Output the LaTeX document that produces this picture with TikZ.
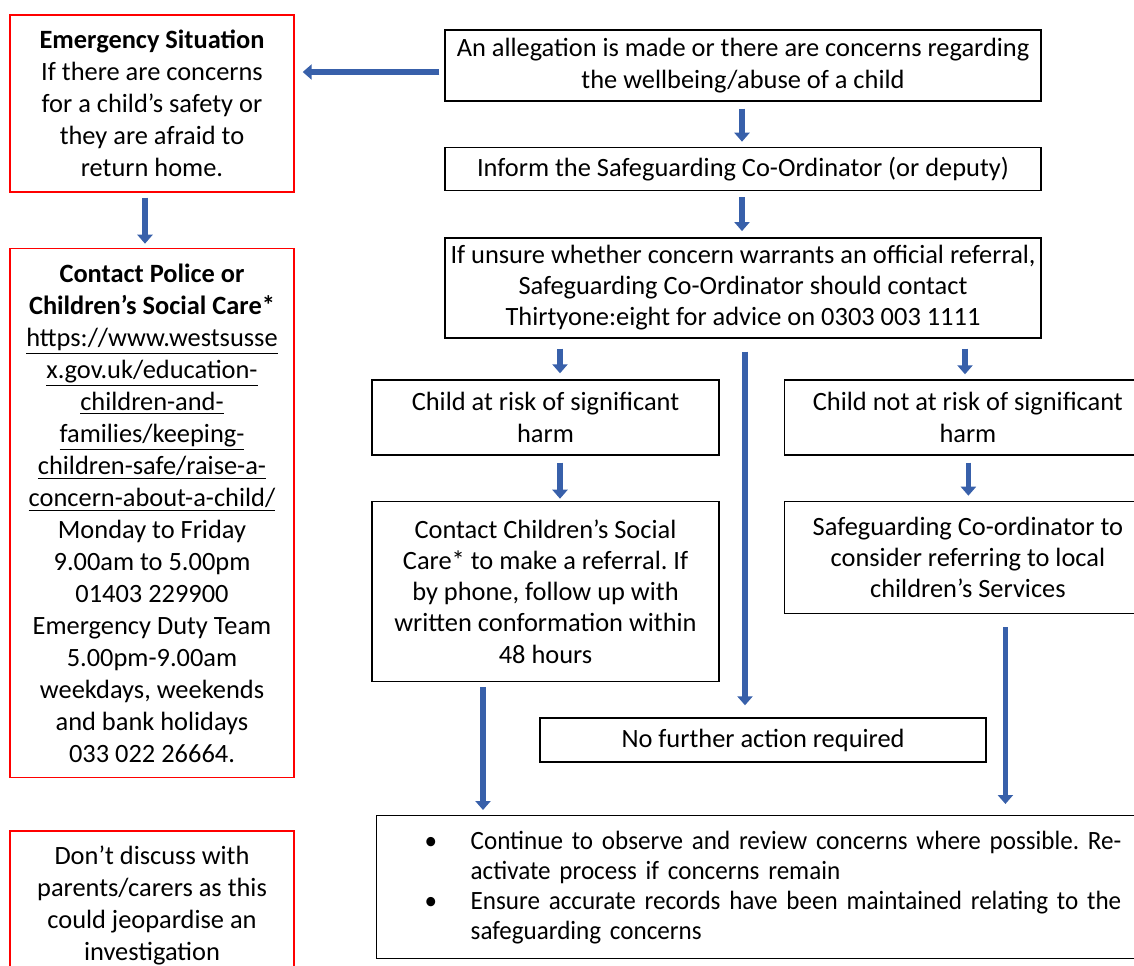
\documentclass[tikz,border=0pt]{standalone}
\usepackage{fontspec}
\setmainfont{Carlito}
\newfontfamily\narrowfont[FakeStretch=0.95]{Carlito}
\usetikzlibrary{positioning,arrows.meta,calc}
\definecolor{arrowblue}{RGB}{56,96,170}
\frenchspacing

\begin{document}
\begin{tikzpicture}[x=0.5pt, y=-0.5pt,
    box/.style={rectangle, draw=black, line width=0.7pt, align=center, inner sep=0pt, font=\fontsize{13.2}{15.6}\selectfont},
    redbox/.style={box, draw=red, minimum width=142pt, font=\fontsize{13.2}{16}\selectfont},
    flow/.style={-{Triangle[length=4.5pt, width=7.5pt]}, line width=2.7pt, draw=arrowblue},
]
\useasboundingbox (0,0) rectangle (1134,965);
\clip (0,0) rectangle (1134,965);

% ---- left column: emergency route (red boxes) ----
\node[redbox, minimum height=88.5pt] (emerg) at (152,103.5) {\textbf{Emergency Situation}\\If there are concerns\\for a child’s safety or\\they are afraid to\\return home.};
\node[redbox, minimum height=264.5pt, below=27.5pt of emerg] (police) {\textbf{Contact Police or}\\\textbf{Children’s Social Care*}\\
  \underline{https://www.westsusse}\\\underline{x.gov.uk/education-}\\\underline{children-and-}\\\underline{families/keeping-}\\\underline{children-safe/raise-a-}\\\underline{concern-about-a-child/}\\
  Monday to Friday\\9.00am to 5.00pm\\01403 229900\\Emergency Duty Team\\5.00pm-9.00am\\weekdays, weekends\\and bank holidays\\033 022 26664.};
\node[redbox, minimum height=75pt, below=26pt of police] (nodisc) {Don’t discuss with\\parents/carers as this\\could jeopardise an\\investigation};

% ---- main flow ----
\node[box, minimum width=298pt, minimum height=35.5pt] (alleg) at (743,65.5) {An allegation is made or there are concerns regarding\\the wellbeing/abuse of a child};
\node[box, minimum width=298pt, minimum height=21.5pt, below=22.5pt of alleg] (inform) {Inform the Safeguarding Co-Ordinator (or deputy)};
\node[box, minimum width=298pt, minimum height=50pt, below=23pt of inform] (unsure) {If unsure whether concern warrants an official referral,\\Safeguarding Co-Ordinator should contact\\Thirtyone:eight for advice on 0303 003 1111};

\node[box, minimum width=173.5pt, minimum height=37.5pt] (risk) at (545.5,417.5) {Child at risk of significant\\harm};
\node[box, minimum width=183.5pt, minimum height=37.5pt, right=32pt of risk] (norisk) {Child not at risk of significant\\harm};
\node[box, minimum width=173.5pt, minimum height=90pt, below=22.5pt of risk] (csc) {Contact Children’s Social\\Care* to make a referral. If\\by phone, follow up with\\written conformation within\\48 hours};
\node[box, minimum width=183.5pt, minimum height=56pt, below=22.5pt of norisk] (sgc) {Safeguarding Co-ordinator to\\consider referring to local\\children’s Services};
\node[box, minimum width=223pt, minimum height=22pt] (nfa) at (763,740) {No further action required};

\node[box, align=left, text width=387pt, minimum height=71.5pt, anchor=north west, font=\narrowfont\fontsize{13.2}{15}\selectfont] (ongoing) at (376,815) {%
  \hspace*{24pt}\makebox[23pt][l]{\textbullet}Continue to observe and review concerns where possible. Re-\\
  \hspace*{47pt}activate process if concerns remain\\
  \hspace*{24pt}\makebox[23pt][l]{\textbullet}Ensure accurate records have been maintained relating to the\\
  \hspace*{47pt}safeguarding concerns};

% ---- arrows ----
\draw[flow] ($(alleg.west)+(-5,6.5)$) coordinate (s1) -- ($(s1 -| emerg.east)+(8,0)$);
\draw[flow] ($(emerg.south)+(-7,5)$) coordinate (s2) -- ($(s2 |- police.north)+(0,-4)$);
\draw[flow] ($(alleg.south)+(-1,7)$) coordinate (s3) -- ($(s3 |- inform.north)+(0,-5)$);
\draw[flow] ($(inform.south)+(-1,6)$) coordinate (s4) -- ($(s4 |- unsure.north)+(0,-6)$);
\draw[flow] ($(unsure.south)+(-183,10)$) coordinate (s5) -- ($(s5 |- risk.north)+(0,-6)$);
\draw[flow] ($(unsure.south)+(2,13)$) coordinate (s6) -- ($(s6 |- nfa.north)+(0,-12)$);
\draw[flow] ($(unsure.south)+(222,10)$) coordinate (s7) -- ($(s7 |- norisk.north)+(0,-5)$);
\draw[flow] ($(risk.south)+(14.5,7)$) coordinate (s8) -- ($(s8 |- csc.north)+(0,-2)$);
\draw[flow] ($(norisk.south)+(0.5,7)$) coordinate (s9) -- ($(s9 |- sgc.north)+(0,-5)$);
\draw[flow] ($(csc.south)+(-62.5,5)$) coordinate (s10) -- ($(s10 |- ongoing.north)+(0,-5)$);
\draw[flow] ($(sgc.south)+(37.5,13)$) coordinate (s11) -- ($(s11 |- ongoing.north)+(0,-11)$);

\end{tikzpicture}
\end{document}
